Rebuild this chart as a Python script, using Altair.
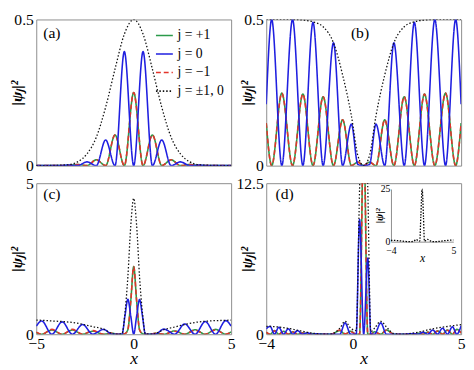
import altair as alt
import pandas as pd

FONT = "Liberation Serif"
SERIES = ["j = +1", "j = 0", "j = −1", "j = ±1, 0"]
COLORS = ["#2b9a4a", "#1f1fe0", "#e3342b", "#111111"]
DASHES = [[1, 0], [1, 0], [5, 3], [1.5, 2]]
WIDTHS = [1.6, 1.6, 1.6, 1.3]

# ---- panel (a) ----
A_x = [-5, -4.8, -4.32, -3.84, -3.36, -2.88, -2.4, -1.92, -1.44, -0.96, -0.48, 0,
       0.48, 0.96, 1.44, 1.92, 2.4, 2.88, 3.36, 3.84, 4.32, 4.8, 5]
A_plus = [0, 0, 0, 0.0005, 0, 0.004, 0, 0.02, 0, 0.105, 0, 0.25,
          0, 0.105, 0, 0.02, 0, 0.004, 0, 0.0005, 0, 0, 0]
A_zero = [0, 0, 0.0003, 0, 0.002, 0, 0.013, 0, 0.088, 0, 0.39, 0,
          0.39, 0, 0.088, 0, 0.013, 0, 0.002, 0, 0.0003, 0, 0]
A_minus = [0, 0, 0, 0.0005, 0, 0.004, 0, 0.02, 0, 0.105, 0, 0.25,
           0, 0.105, 0, 0.02, 0, 0.004, 0, 0.0005, 0, 0, 0]
A_total = [0, 0.0001, 0.0005, 0.0015, 0.003, 0.013, 0.04, 0.097, 0.2, 0.33, 0.45, 0.5,
           0.45, 0.33, 0.2, 0.097, 0.04, 0.013, 0.003, 0.0015, 0.0005, 0.0001, 0]

# ---- panel (b) ----
B_x = [-5, -4.72, -4.2, -3.65, -3.12, -2.6, -2.08, -1.55, -1.08, -0.63, -0.3, 0,
       0.3, 0.63, 1.08, 1.55, 2.08, 2.6, 3.12, 3.65, 4.2, 4.72, 5]
B_plus = [0.146, 0, 0.248, 0, 0.245, 0, 0.236, 0, 0.157, 0, 0.012, 0,
          0.012, 0, 0.157, 0, 0.236, 0, 0.245, 0, 0.248, 0, 0.146]
B_zero = [0.21, 0.5, 0, 0.5, 0, 0.49, 0, 0.42, 0, 0.142, 0.004, 0,
          0.004, 0.142, 0, 0.42, 0, 0.49, 0, 0.5, 0, 0.5, 0.21]
B_minus = [0.146, 0, 0.248, 0, 0.245, 0, 0.236, 0, 0.157, 0, 0.012, 0,
           0.012, 0, 0.157, 0, 0.236, 0, 0.245, 0, 0.248, 0, 0.146]
B_total = [0.5, 0.5, 0.5, 0.5, 0.498, 0.492, 0.475, 0.42, 0.31, 0.17, 0.035, 0,
           0.035, 0.17, 0.31, 0.42, 0.475, 0.492, 0.498, 0.5, 0.5, 0.5, 0.5]

# ---- panel (c) ----
C_x = [-5, -4.72, -4.2, -3.67, -3.15, -2.62, -2.1, -1.55, -1.1, -0.85, -0.6, -0.45, -0.3, -0.15, 0,
       0.15, 0.3, 0.45, 0.6, 0.85, 1.1, 1.55, 2.1, 2.62, 3.15, 3.67, 4.2, 4.72, 5]
C_plus = [0.06, 0, 0.14, 0, 0.14, 0, 0.1, 0, 0.03, 0, 0, 0.02, 0.15, 1.1, 2.24,
          1.1, 0.15, 0.02, 0, 0, 0.03, 0, 0.11, 0, 0.15, 0, 0.16, 0, 0.08]
C_zero = [0.27, 0.44, 0, 0.41, 0, 0.32, 0, 0.16, 0, 0, 0, 0.6, 1.16, 0.6, 0,
          0.6, 1.15, 0.6, 0, 0, 0, 0.17, 0, 0.34, 0, 0.42, 0, 0.45, 0.27]
C_minus = [0.07, 0, 0.16, 0, 0.16, 0, 0.12, 0, 0.04, 0, 0, 0.02, 0.15, 1.1, 2.24,
           1.1, 0.15, 0.02, 0, 0, 0.03, 0, 0.1, 0, 0.13, 0, 0.14, 0, 0.07]
C_total = [0.47, 0.46, 0.44, 0.42, 0.39, 0.33, 0.25, 0.17, 0.02, 0, 0.02, 0.7, 1.9, 3.6, 4.5,
           3.6, 1.9, 0.7, 0.02, 0, 0.02, 0.15, 0.24, 0.32, 0.39, 0.43, 0.45, 0.46, 0.47]

# ---- panel (d) ----
D_x = [-4, -3.82, -3.62, -3.42, -3.2, -2.98, -2.77, -2.55, -2.33, -2.1, -1.9, -1.7, -1.4, -1.0,
       -0.6, -0.36, -0.1, 0.155, 0.31, 0.5, 0.69, 0.83, 1.0, 1.29, 1.55, 1.9, 2.3,
       2.79, 3.01, 3.24, 3.46, 3.69, 3.91, 4.14, 4.37, 4.6, 4.8, 5]
D_plus = [0.15, 0, 0.3, 0, 0.25, 0, 0.2, 0, 0.12, 0, 0.05, 0, 0.01, 0,
          0.3, 0, 0.25, 0, 0, 17, 0, 0, 0.2, 0, 0.35, 0, 0,
          0, 0.08, 0, 0.18, 0, 0.28, 0, 0.35, 0, 0.4, 0.1]
D_zero = [0.45, 0.65, 0, 0.58, 0, 0.45, 0, 0.3, 0, 0.12, 0, 0.03, 0, 0,
          0, 0.94, 0, 0, 9.5, 0, 6.3, 0, 0, 0.94, 0, 0, 0,
          0.05, 0, 0.17, 0, 0.35, 0, 0.5, 0, 0.62, 0, 0.7]
D_minus = [0.17, 0, 0.28, 0, 0.24, 0, 0.18, 0, 0.1, 0, 0.04, 0, 0.01, 0,
           0.35, 0.03, 0.2, 0, 0, 17, 0, 0, 0.18, 0, 0.33, 0, 0,
           0, 0.07, 0, 0.16, 0, 0.26, 0, 0.33, 0, 0.38, 0.1]
D_total = [0.66, 0.66, 0.62, 0.6, 0.55, 0.48, 0.42, 0.33, 0.25, 0.16, 0.1, 0.05, 0.01, 0.02,
           0.5, 1.07, 0.5, 0.3, 12, 25, 12, 0.2, 0.5, 1.07, 0.6, 0.05, 0,
           0.1, 0.17, 0.25, 0.36, 0.45, 0.52, 0.58, 0.64, 0.7, 0.75, 0.8]

DRAW_ORDER = [0, 2, 1, 3]
FMT = ".3~g"


def yaxis(vals):
    return alt.Axis(values=vals, format=FMT, title="|ψⱼ|²", titleX=-12, titleBaseline="bottom",
                    titleAngle=270, titleFontStyle="italic", titleFontSize=16, labelFontSize=16,
                    labelPadding=3, domain=False, ticks=False, grid=False, labelFlush=False)


def xaxis(vals):
    return alt.Axis(values=vals, format=FMT, title="x", titleFontStyle="italic", titleFontSize=18,
                    titleFontWeight="normal", labelFontSize=16, labelPadding=2, titlePadding=-2,
                    labelFlush=False, domain=False, ticks=False, grid=False)


LEGEND = alt.Legend(title=None, orient="top-right", offset=2, symbolType="stroke",
                    symbolSize=300, symbolStrokeWidth=1.6, labelFont=FONT, labelFontSize=14,
                    labelOffset=4, rowPadding=2, padding=5)


def panel(xs, vals, xdom, xvals, ydom, yvals, letter, lx, ly, show_x, legend, w, h):
    xscale = alt.Scale(domain=xdom, nice=False, zero=False)
    yscale = alt.Scale(domain=ydom, nice=False, zero=False)
    xax = xaxis(xvals) if show_x else None
    layers = []
    for i in DRAW_ORDER:
        df = pd.DataFrame({"x": xs, "y": vals[i], "s": SERIES[i]})
        layers.append(
            alt.Chart(df).mark_line(interpolate="monotone", strokeWidth=WIDTHS[i], clip=True).encode(
                x=alt.X("x:Q", scale=xscale, axis=xax),
                y=alt.Y("y:Q", scale=yscale, axis=yaxis(yvals)),
                color=alt.Color("s:N", scale=alt.Scale(domain=SERIES, range=COLORS),
                                legend=LEGEND if legend else None),
                strokeDash=alt.StrokeDash("s:N", scale=alt.Scale(domain=SERIES, range=DASHES),
                                          legend=LEGEND if legend else None),
            )
        )
    lab = pd.DataFrame({"x": [lx], "y": [ly], "t": [letter]})
    layers.append(
        alt.Chart(lab).mark_text(font=FONT, fontSize=16, align="center", baseline="middle", color="black").encode(
            x=alt.X("x:Q", scale=xscale, axis=xax),
            y=alt.Y("y:Q", scale=yscale, axis=yaxis(yvals)),
            text="t:N",
        )
    )
    return alt.layer(*layers).properties(width=w, height=h)


pa = panel(A_x, [A_plus, A_zero, A_minus, A_total], [-5, 5], [-5, 0, 5], [0, 0.5], [0, 0.5],
           "(a)", -4.2, 0.455, False, True, 200, 150)
pb = panel(B_x, [B_plus, B_zero, B_minus, B_total], [-5, 5], [-5, 0, 5], [0, 0.5], [0, 0.5],
           "(b)", -0.19, 0.455, False, False, 200, 150)
pc = panel(C_x, [C_plus, C_zero, C_minus, C_total], [-5, 5], [-5, 0, 5], [0, 5], [0, 5],
           "(c)", -4.2, 4.65, True, False, 200, 155)
pd_main = panel(D_x, [D_plus, D_zero, D_minus, D_total], [-4, 5], [-4, 0, 5], [0, 12.5], [0, 12.5],
                "(d)", -3.15, 11.57, True, False, 200, 155)

inset_df = pd.DataFrame({"x": D_x, "y": D_total})
inset = alt.Chart(inset_df).mark_line(interpolate="monotone", strokeWidth=1.3, color="black",
                                      strokeDash=[1.5, 1.5]).encode(
    x=alt.X("x:Q", scale=alt.Scale(domain=[-4, 5], range=[128, 192], nice=False, zero=False),
            axis=alt.Axis(orient="bottom", offset=-95, values=[-4, 5], format=FMT, title="x",
                          titleFontStyle="italic", titleFontWeight="normal", titleFontSize=12,
                          labelFontSize=10, labelPadding=4, titlePadding=-3, labelFlush=False,
                          domain=True, domainColor="#8c8c8c", ticks=False, grid=False)),
    y=alt.Y("y:Q", scale=alt.Scale(domain=[0, 25], range=[60, 6], nice=False, zero=False),
            axis=alt.Axis(orient="left", offset=-128, values=[0, 25], format=FMT, title="|ψ|²",
                          titleX=-7, titleBaseline="bottom", titleAngle=270, titleFontStyle="italic",
                          titleFontSize=11, labelFontSize=10, labelPadding=1, domain=True,
                          domainColor="#8c8c8c", ticks=False, grid=False, labelFlush=False)),
)

pdd = alt.layer(pd_main, inset).resolve_scale(x="independent", y="independent").properties(width=200, height=155)

row1 = alt.hconcat(pa, pb, spacing=36, bounds="flush").resolve_scale(color="independent", strokeDash="independent")
row2 = alt.hconcat(pc, pdd, spacing=36, bounds="flush").resolve_scale(color="independent", strokeDash="independent")

chart = alt.vconcat(row1, row2, spacing=0).resolve_scale(
    color="independent", strokeDash="independent"
).properties(
    padding={"left": 0, "top": -2, "right": 0, "bottom": 0}
).configure_view(
    stroke="#8c8c8c", strokeWidth=1
).configure_axis(
    labelFont=FONT, titleFont=FONT, labelColor="#000000", titleColor="#000000"
).configure_text(font=FONT)

chart.save("out.html", embed_options={"renderer": "svg", "actions": False})
